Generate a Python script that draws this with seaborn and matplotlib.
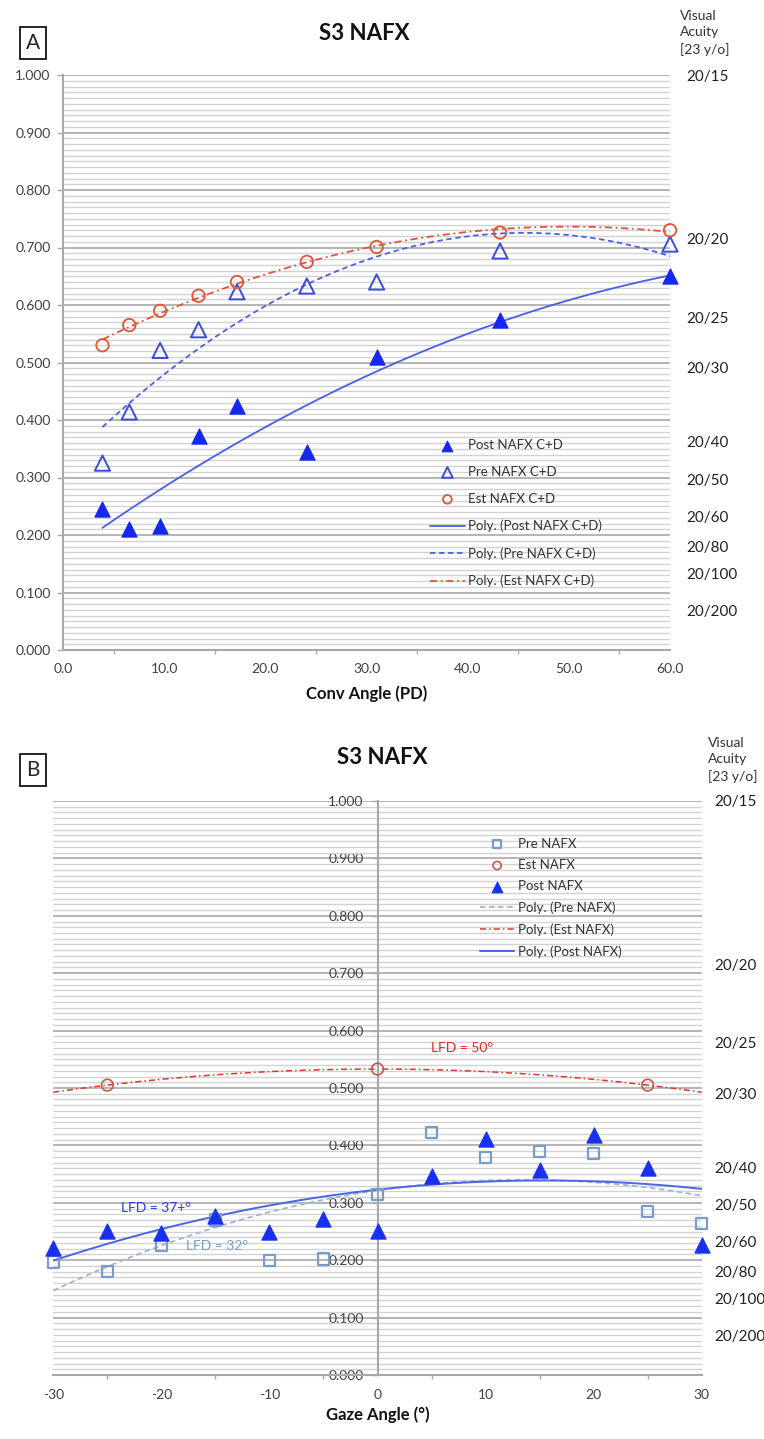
import numpy as np
import pandas as pd
import matplotlib
matplotlib.use("Agg")
import matplotlib.pyplot as plt
import seaborn as sns
from matplotlib.ticker import MultipleLocator, FormatStrFormatter

# ---------------- Panel A data (Conv Angle) ----------------
conv_angle = [3.9, 6.55, 9.6, 13.4, 17.2, 24.1, 31.0, 43.2, 60.0]
post_conv = [0.246, 0.211, 0.216, 0.373, 0.424, 0.345, 0.509, 0.574, 0.650]
pre_conv = [0.325, 0.414, 0.521, 0.557, 0.623, 0.633, 0.640, 0.694, 0.706]
est_conv = [0.530, 0.565, 0.590, 0.616, 0.640, 0.675, 0.701, 0.726, 0.730]

# ---------------- Panel B data (Gaze Angle) ----------------
gaze_angle = [-30, -25, -20, -15, -10, -5, 0, 5, 10, 15, 20, 25, 30]
pre_gaze = [0.197, 0.181, 0.225, 0.270, 0.199, 0.202, 0.315, 0.422, 0.379, 0.390, 0.386, 0.285, 0.264]
post_gaze = [0.222, 0.251, 0.248, 0.277, 0.249, 0.271, 0.251, 0.347, 0.411, 0.357, 0.418, 0.361, 0.226]
est_gaze_angle = [-25, 0, 25]
est_gaze = [0.505, 0.533, 0.505]

# ---------------- Visual acuity (right-hand labels) ----------------
va_labels = ["20/15", "20/20", "20/25", "20/30", "20/40", "20/50", "20/60", "20/80", "20/100", "20/200"]
va_positions = [1.0, 0.716, 0.579, 0.491, 0.362, 0.297, 0.233, 0.180, 0.133, 0.068]

sns.set_theme(style="white")
plt.rcParams["font.family"] = ["Lato", "DejaVu Sans"]

W, H = 764, 1439
fig = plt.figure(figsize=(W / 100, H / 100), dpi=100)


def px_rect(x0, y0, x1, y1):
    return [x0 / W, 1 - y1 / H, (x1 - x0) / W, (y1 - y0) / H]


TICK_COL = "#404040"
MAJ_GRID = "#b4b4b4"
MIN_GRID = "#d2d2d2"


def style_grid(ax):
    ax.set_ylim(0, 1)
    ax.yaxis.set_major_locator(MultipleLocator(0.1))
    ax.yaxis.set_minor_locator(MultipleLocator(0.01))
    ax.yaxis.set_major_formatter(FormatStrFormatter("%.3f"))
    ax.grid(False)
    ax.grid(True, which="major", axis="y", color=MAJ_GRID, lw=1.4, zorder=0)
    ax.grid(True, which="minor", axis="y", color=MIN_GRID, lw=1.0, zorder=0)
    ax.set_axisbelow(True)
    for s in ["top", "right"]:
        ax.spines[s].set_visible(False)
    for s in ["left", "bottom"]:
        ax.spines[s].set_color("#a8a8a8")
        ax.spines[s].set_linewidth(1.5)
    ax.tick_params(axis="y", which="minor", length=0)
    ax.tick_params(axis="both", which="major", colors="#a8a8a8", labelcolor=TICK_COL,
                   labelsize=10, direction="out", length=4, width=1)
    ax.tick_params(axis="x", which="minor", colors="#a8a8a8", direction="out", length=3, width=1, bottom=True)


def add_va(ax, pad):
    ax2 = ax.twinx()
    ax2.set_ylim(0, 1)
    ax2.set_yticks(va_positions)
    ax2.set_yticklabels(va_labels)
    ax2.tick_params(axis="y", length=0, pad=pad, labelsize=11, labelcolor="#222222")
    ax2.grid(False)
    for s in ax2.spines.values():
        s.set_visible(False)
    return ax2


# =============== Panel A ===============
axA = fig.add_axes(px_rect(63, 75, 670, 650))
style_grid(axA)
axA.set_xlim(0, 60)
axA.xaxis.set_major_locator(MultipleLocator(10))
axA.xaxis.set_minor_locator(MultipleLocator(5))
axA.xaxis.set_major_formatter(FormatStrFormatter("%.1f"))
axA.tick_params(axis="y", pad=5)
axA.tick_params(axis="x", pad=5)

BLUE_FILL = "#1428f0"
BLUE_OPEN = "#3a4be0"
BLUE_LINE = "#4a5ee6"
RED_A = "#e0553a"

sns.scatterplot(x=conv_angle, y=post_conv, marker="^", s=120, color=BLUE_FILL,
                edgecolor=BLUE_FILL, linewidth=0.8, label="Post NAFX C+D", ax=axA, zorder=4, clip_on=False)
sns.scatterplot(x=conv_angle, y=pre_conv, marker="^", s=120, facecolors="none",
                edgecolors=BLUE_OPEN, linewidth=1.4, label="Pre NAFX C+D", ax=axA, zorder=4, clip_on=False)
sns.scatterplot(x=conv_angle, y=est_conv, marker="o", s=80, facecolors="none",
                edgecolors=RED_A, linewidth=1.3, label="Est NAFX C+D", ax=axA, zorder=4, clip_on=False)
sns.regplot(x=conv_angle, y=post_conv, order=2, ci=None, scatter=False, ax=axA,
            label="Poly. (Post NAFX C+D)", line_kws=dict(color=BLUE_LINE, lw=1.3, ls="-"))
sns.regplot(x=conv_angle, y=pre_conv, order=2, ci=None, scatter=False, ax=axA,
            label="Poly. (Pre NAFX C+D)", line_kws=dict(color=BLUE_LINE, lw=1.3, dashes=(3, 2)))
sns.regplot(x=conv_angle, y=est_conv, order=2, ci=None, scatter=False, ax=axA,
            label="Poly. (Est NAFX C+D)", line_kws=dict(color=RED_A, lw=1.3, dashes=(4, 2, 1, 2)))
axA.set_xlim(0, 60)
axA.set_ylim(0, 1)
axA.set_xlabel("Conv Angle (PD)", fontsize=12, fontweight="bold", color="#111111", labelpad=8)
axA.set_ylabel("")
legA = axA.legend(loc="upper left", bbox_to_anchor=(0.605, 0.367), frameon=False, fontsize=9.5,
                  handlelength=2.6, handletextpad=0.3, labelspacing=1.13, borderpad=0,
                  borderaxespad=0, markerscale=0.7)
for t in legA.get_texts():
    t.set_color("#333333")
add_va(axA, pad=12)

fig.text(364 / W, 1 - 33 / H, "S3 NAFX", ha="center", va="center", fontsize=16, fontweight="bold", color="#111111")
fig.text(33 / W, 1 - 43 / H, "A", ha="center", va="center", fontsize=15,
         bbox=dict(boxstyle="square,pad=0.3", fc="white", ec="black", lw=1.2))
fig.text(680 / W, 1 - 33 / H, "Visual\nAcuity\n[23 y/o]", ha="left", va="center", fontsize=10,
         color="#333333", linespacing=1.45)

# =============== Panel B ===============
axB = fig.add_axes(px_rect(53.3, 801, 701.7, 1375))
style_grid(axB)
axB.set_xlim(-30, 30)
axB.xaxis.set_major_locator(MultipleLocator(10))
axB.xaxis.set_minor_locator(MultipleLocator(5))
axB.xaxis.set_major_formatter(FormatStrFormatter("%d"))
axB.spines["left"].set_position(("data", 0))
axB.tick_params(axis="y", pad=6)
axB.tick_params(axis="x", pad=6)

PRE_B = "#7b9cc8"
PRE_B_LINE = "#9fb4d6"
EST_B = "#c8584a"
EST_B_LINE = "#e0362a"
POST_B = "#1a30f0"
POST_B_LINE = "#4a66e0"

sns.scatterplot(x=gaze_angle, y=pre_gaze, marker="s", s=65, facecolors="none",
                edgecolors=PRE_B, linewidth=1.6, label="Pre NAFX", ax=axB, zorder=4, clip_on=False)
sns.scatterplot(x=est_gaze_angle, y=est_gaze, marker="o", s=70, facecolors="none",
                edgecolors=EST_B, linewidth=1.2, label="Est NAFX", ax=axB, zorder=4, clip_on=False)
sns.scatterplot(x=gaze_angle, y=post_gaze, marker="^", s=120, color=POST_B,
                edgecolor=POST_B, linewidth=0.8, label="Post NAFX", ax=axB, zorder=5, clip_on=False)
axB.set_xlim(-30, 30)
sns.regplot(x=gaze_angle, y=pre_gaze, order=2, ci=None, scatter=False, ax=axB,
            label="Poly. (Pre NAFX)", line_kws=dict(color=PRE_B_LINE, lw=1.3, dashes=(3, 2)))
sns.regplot(x=est_gaze_angle, y=est_gaze, order=2, ci=None, scatter=False, truncate=False, ax=axB,
            label="Poly. (Est NAFX)", line_kws=dict(color=EST_B_LINE, lw=1.1, dashes=(4, 2, 1, 2)))
sns.regplot(x=gaze_angle, y=post_gaze, order=2, ci=None, scatter=False, ax=axB,
            label="Poly. (Post NAFX)", line_kws=dict(color=POST_B_LINE, lw=1.4, ls="-"))
axB.set_xlim(-30, 30)
axB.set_ylim(0, 1)
axB.set_xlabel("Gaze Angle (°)", fontsize=12, fontweight="bold", color="#111111", labelpad=4)
axB.set_ylabel("")
legB = axB.legend(loc="upper left", bbox_to_anchor=(0.658, 0.936), frameon=False, fontsize=9.5,
                  handlelength=2.6, handletextpad=0.3, labelspacing=0.7, borderpad=0,
                  borderaxespad=0, markerscale=0.7)
for t in legB.get_texts():
    t.set_color("#333333")

axB.text(7.8, 0.570, "LFD = 50°", color="#e02a20", fontsize=10, ha="center", va="center")
axB.text(-20.5, 0.291, "LFD = 37+°", color="#2a3ee0", fontsize=10, ha="center", va="center")
axB.text(-14.8, 0.225, "LFD = 32°", color="#7a9cc6", fontsize=10, ha="center", va="center")
add_va(axB, pad=9)

fig.text(382 / W, 1 - 758 / H, "S3 NAFX", ha="center", va="center", fontsize=16, fontweight="bold", color="#111111")
fig.text(33 / W, 1 - 770 / H, "B", ha="center", va="center", fontsize=15,
         bbox=dict(boxstyle="square,pad=0.3", fc="white", ec="black", lw=1.2))
fig.text(708 / W, 1 - 760 / H, "Visual\nAcuity\n[23 y/o]", ha="left", va="center", fontsize=10,
         color="#333333", linespacing=1.45)

fig.savefig("out.png", dpi=100, facecolor="white")
